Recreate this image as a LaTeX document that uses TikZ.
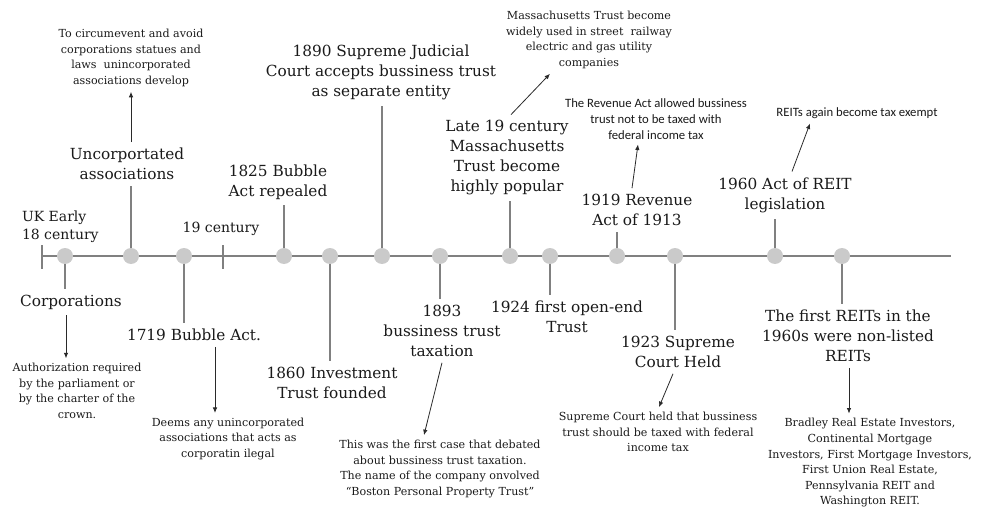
\documentclass[tikz,border=0pt]{standalone}
\usepackage{fontspec}
\setmainfont{DejaVu Serif}
\newfontfamily\notesans{Carlito}
\usetikzlibrary{arrows.meta}
\definecolor{dotgray}{HTML}{CACACA}
\definecolor{linegray}{HTML}{808080}
\definecolor{inkcol}{HTML}{1A1A1A}
\definecolor{arrowcol}{HTML}{2A2A2A}

\begin{document}
\begin{tikzpicture}[x=1pt,y=-1pt,
  big/.style={font=\fontsize{15.3}{20}\selectfont, align=center, inner sep=1pt, outer sep=5pt, text=inkcol},
  mid/.style={big, font=\fontsize{14}{18}\selectfont},
  note/.style={font=\fontsize{11.1}{15.6}\selectfont, align=center, inner sep=1pt, outer sep=4pt, text=inkcol},
  snote/.style={font=\notesans\fontsize{12.7}{16}\selectfont, align=center, inner sep=1pt, outer sep=4pt, text=inkcol},
  dot/.style={circle, fill=dotgray, minimum size=16pt, inner sep=0pt},
  axis/.style={draw=linegray, line width=1.7pt},
  stem/.style={draw=linegray, line width=1.2pt},
  arr/.style={draw=arrowcol, line width=0.8pt, -{Latex[length=5.5pt,width=4.5pt]}},
]
\useasboundingbox[fill=white] (0,0) rectangle (983,508);

% main time axis with its two ticks
\coordinate (ax0) at (42,256);
\coordinate (ax1) at (951,256);
\coordinate (tick19) at (223,256);
\draw[axis] (ax0) -- (ax1);
\draw[axis] (ax0) ++(0,-11) -- ++(0,24);
\draw[axis] (tick19) ++(0,-11) -- ++(0,24);

% event dots
\foreach \n/\x in {1/65,2/131,3/184,4/284,5/330,6/382,7/440,8/510,9/550,10/617,11/675,12/775,13/842}
  \node[dot] (d\n) at (\x,256) {};

% labels above the axis
\node[mid, align=left, anchor=west] (uk) at (16,227) {UK Early\\18 century};
\node[big] (uncorp) at (127,164) {Uncorportated\\associations};
\node[note] (whyassoc) at (131,58) {To circumevent and avoid\\corporations statues and\\laws~~unincorporated\\associations develop};
\node[mid] (cent19) at (221,229) {19 century};
\node[big] (repeal) at (278,182) {1825 Bubble\\Act repealed};
\node[big] (sjc) at (381,72) {1890 Supreme Judicial\\Court accepts bussiness trust\\as separate entity};
\node[big] (late19) at (507,158) {Late 19 century\\Massachusetts\\Trust become\\highly popular};
\node[note] (massuse) at (589,40) {Massachusetts Trust become\\widely used in street~~railway\\electric and gas utility\\companies};
\node[snote] (revnote) at (656,119) {The Revenue Act allowed bussiness\\trust not to be taxed with\\federal income tax};
\node[big] (rev1919) at (637,210) {1919 Revenue\\Act of 1913};
\node[snote] (exempt) at (857,113) {REITs again become tax exempt};
\node[big] (act1960) at (785,195) {1960 Act of REIT\\legislation};

% labels below the axis
\node[big] (corp) at (71,302) {Corporations};
\node[note] (auth) at (77,391) {Authorization required\\by the parliament or\\by the charter of the\\crown.};
\node[big] (bubble) at (194,335) {1719 Bubble Act.};
\node[note] (deems) at (228,439) {Deems any unincorporated\\associations that acts as\\corporatin ilegal};
\node[big] (invest) at (332,383) {1860 Investment\\Trust founded};
\node[big] (tax1893) at (442,331) {1893\\bussiness trust\\taxation};
\node[note] (firstcase) at (440,469) {This was the first case that debated\\about bussiness trust taxation.\\The name of the company onvolved\\``Boston Personal Property Trust''};
\node[big] (openend) at (567,317) {1924 first open-end\\Trust};
\node[big] (court1923) at (678,352) {1923 Supreme\\Court Held};
\node[note] (heldnote) at (658,432) {Supreme Court held that bussiness\\trust should be taxed with federal\\income tax};
\node[big] (nonlisted) at (848,336) {The first REITs in the\\1960s were non-listed\\REITs};
\node[note] (bradley) at (870,463) {Bradley Real Estate Investors,\\Continental Mortgage\\Investors, First Mortgage Investors,\\First Union Real Estate,\\Pennsylvania REIT and\\Washington REIT.};

% stems joining dots to their labels
\draw[stem] (d1.south) -- (d1 |- corp.north);
\draw[stem] (d2.north) -- (d2 |- uncorp.south);
\draw[stem] (d3.south) -- (d3 |- bubble.north);
\draw[stem] (d4.north) -- (d4 |- repeal.south);
\draw[stem] (d5.south) -- (d5 |- invest.north);
\draw[stem] (d6.north) -- (d6 |- sjc.south);
\draw[stem] (d7.south) -- (d7 |- tax1893.north);
\draw[stem] (d8.north) -- (d8 |- late19.south);
\draw[stem] (d9.south) -- (d9 |- openend.north);
\draw[stem] (d10.north) -- (d10 |- rev1919.south);
\draw[stem] (d11.south) -- (d11 |- court1923.north);
\draw[stem] (d12.north) -- (d12 |- act1960.south);
\draw[stem] (d13.south) -- (d13 |- nonlisted.north);

% arrows from events to their explanations
\draw[arr] ([xshift=4pt]uncorp.north) -- (whyassoc.south);
\draw[arr] ([xshift=4pt]late19.north) -- ([xshift=-39pt]massuse.south);
\draw[arr] ([xshift=-5pt]rev1919.north) -- ([xshift=-18pt]revnote.south);
\draw[arr] ([xshift=7pt]act1960.north) -- ([xshift=-47pt]exempt.south);
\draw[arr] ([xshift=-5pt]corp.south) -- ([xshift=-11pt]auth.north);
\draw[arr] ([xshift=21pt]bubble.south) -- ([xshift=-13pt]deems.north);
\draw[arr] (tax1893.south) -- ([xshift=-16pt]firstcase.north);
\draw[arr] ([xshift=-5pt]court1923.south) -- ([xshift=1pt]heldnote.north);
\draw[arr] ([xshift=1pt]nonlisted.south) -- ([xshift=-21pt]bradley.north);
\end{tikzpicture}
\end{document}
